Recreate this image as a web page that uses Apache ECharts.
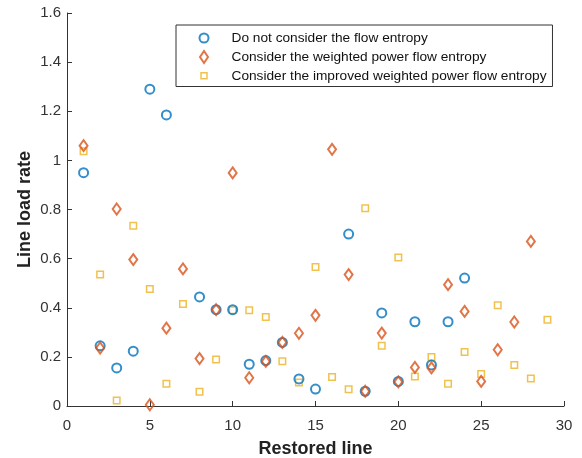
<!DOCTYPE html>
<html>
<head>
<meta charset="utf-8">
<script src="https://cdn.jsdelivr.net/npm/echarts@6/dist/echarts.min.js"></script>
<style>
  html, body { margin: 0; padding: 0; background: #fff; }
  #chart { width: 582px; height: 458px; }
</style>
</head>
<body>
<div id="chart"></div>
<script>
// series names
var names = [
  'Do not consider the flow entropy',
  'Consider the weighted power flow entropy',
  'Consider the improved weighted power flow entropy'
];

// restored line index / load rate
var noEntropyX = [1, 2, 3, 4, 5, 6, 8, 9, 10, 11, 12, 13, 14, 15, 17, 18, 19, 20, 21, 22, 23, 24];
var noEntropyY = [0.95, 0.245, 0.155, 0.223, 1.29, 1.185, 0.444, 0.392, 0.392, 0.17, 0.185, 0.259, 0.11, 0.069, 0.70, 0.06, 0.379, 0.10, 0.343, 0.167, 0.343, 0.521];

var weightedX = [1, 2, 3, 4, 5, 6, 7, 8, 9, 10, 11, 12, 13, 14, 15, 16, 17, 18, 19, 20, 21, 22, 23, 24, 25, 26, 27, 28];
var weightedY = [1.06, 0.236, 0.802, 0.596, 0.005, 0.317, 0.558, 0.193, 0.392, 0.949, 0.115, 0.182, 0.259, 0.296, 0.369, 1.045, 0.535, 0.06, 0.297, 0.098, 0.157, 0.155, 0.494, 0.385, 0.10, 0.229, 0.342, 0.67];

var improvedX = [1, 2, 3, 4, 5, 6, 7, 8, 9, 10, 11, 12, 13, 14, 15, 16, 17, 18, 19, 20, 21, 22, 23, 24, 25, 26, 27, 28, 29];
var improvedY = [1.037, 0.535, 0.022, 0.734, 0.476, 0.091, 0.415, 0.058, 0.189, 0.39, 0.39, 0.362, 0.182, 0.096, 0.566, 0.118, 0.068, 0.805, 0.245, 0.605, 0.12, 0.20, 0.091, 0.22, 0.13, 0.41, 0.167, 0.112, 0.351];

var colors = ['#0072BD', '#D95319', '#EDB120'];
var FONT = '"Liberation Sans", Arial, sans-serif';

// legend icons: the leading moves pin every icon to a 10x14 box so they keep their size
var legendIcons = [
  'path://M0,0M10,14M0.5,7A4.5,4.5 0 1,1 9.5,7A4.5,4.5 0 1,1 0.5,7Z',
  'path://M0,0M10,14M5,1L9,7L5,13L1,7Z',
  'path://M0,0M10,14M2,4L8,4L8,10L2,10Z'
];

function pairs(xs, ys) {
  var out = [];
  for (var i = 0; i < xs.length; i++) {
    out.push([xs[i], ys[i]]);
  }
  return out;
}

var chart = echarts.init(document.getElementById('chart'), null, { renderer: 'canvas' });

var legendData = [];
for (var k = 0; k < names.length; k++) {
  legendData.push({
    name: names[k],
    icon: legendIcons[k],
    itemStyle: { color: 'rgba(255,255,255,0)', borderColor: colors[k], borderWidth: k === 2 ? 1.5 : 2 }
  });
}

var option = {
  backgroundColor: '#fff',
  animation: false,
  grid: { left: 67, top: 13, width: 497, height: 393, outerBoundsMode: 'none', containLabel: false },
  legend: {
    orient: 'vertical',
    left: 176,
    top: 25,
    itemWidth: 45,
    itemHeight: 14,
    itemGap: 3,
    symbolKeepAspect: true,
    padding: [5, 6, 3, 22],
    borderColor: '#333',
    borderWidth: 1,
    backgroundColor: '#fff',
    textStyle: { fontFamily: FONT, fontSize: 13.7, color: '#111' },
    data: legendData
  },
  xAxis: {
    type: 'value',
    min: 0, max: 30, interval: 5,
    name: 'Restored line',
    nameLocation: 'middle',
    nameGap: 34,
    nameMoveOverlap: false,
    nameTextStyle: { fontFamily: FONT, fontSize: 18, fontWeight: 'bold', color: '#222' },
    axisLine: { lineStyle: { color: '#333', width: 1 } },
    axisTick: { inside: true, length: 5, lineStyle: { color: '#333' } },
    axisLabel: { fontFamily: FONT, fontSize: 15, color: '#333', margin: 12 },
    splitLine: { show: false }
  },
  yAxis: {
    type: 'value',
    min: 0, max: 1.6, interval: 0.2,
    name: 'Line load rate',
    nameLocation: 'middle',
    nameGap: 33,
    nameMoveOverlap: false,
    nameTextStyle: { fontFamily: FONT, fontSize: 18, fontWeight: 'bold', color: '#222' },
    axisLine: { show: true, lineStyle: { color: '#333', width: 1 } },
    axisTick: { show: true, inside: true, length: 5, lineStyle: { color: '#333' } },
    axisLabel: { fontFamily: FONT, fontSize: 15, color: '#333', margin: 6 },
    splitLine: { show: false }
  },
  series: [
    {
      name: names[0],
      type: 'scatter',
      symbol: 'circle',
      symbolSize: 9,
      itemStyle: { color: 'rgba(255,255,255,0)', borderColor: colors[0], borderWidth: 2 },
      data: pairs(noEntropyX, noEntropyY),
      z: 3
    },
    {
      name: names[1],
      type: 'scatter',
      symbol: 'diamond',
      symbolSize: [8, 11],
      itemStyle: { color: 'rgba(255,255,255,0)', borderColor: colors[1], borderWidth: 2 },
      data: pairs(weightedX, weightedY),
      z: 4
    },
    {
      name: names[2],
      type: 'scatter',
      symbol: 'rect',
      symbolSize: 6.5,
      itemStyle: { color: 'rgba(255,255,255,0)', borderColor: colors[2], borderWidth: 1.5 },
      data: pairs(improvedX, improvedY),
      z: 2
    }
  ]
};

chart.setOption(option);
</script>
</body>
</html>
